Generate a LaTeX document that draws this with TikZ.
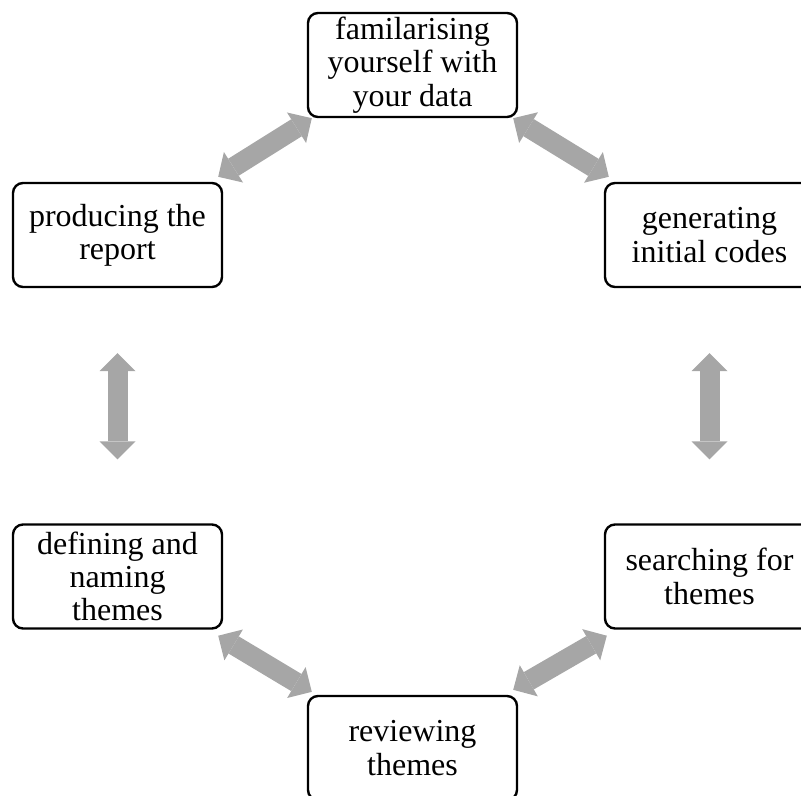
\documentclass[tikz,border=0pt]{standalone}
\usepackage{fontspec}
\setmainfont{Liberation Serif}
\usetikzlibrary{arrows.meta}
\definecolor{arrowgrey}{RGB}{166,166,166}

\begin{document}
\begin{tikzpicture}[x=0.75pt,y=0.75pt,yscale=-1,xscale=1,
		stage/.style={draw, line width=1.8pt, rounded corners=7.5pt, minimum width=156.75pt, minimum height=78pt, align=center, inner sep=0.75pt, font=\fontsize{24}{25}\selectfont},
		biarrow/.style={draw=arrowgrey, line width=15pt, {Triangle[length=13.5pt,width=27pt,line width=0pt]}-{Triangle[length=13.5pt,width=27pt,line width=0pt]}}]
		\useasboundingbox (0,0) rectangle (801,796);
		\node[stage] (familiar) at (412.5,65) {familarising\\yourself with\\your data};
		\node[stage] (generate) at (709.5,235) {generating\\initial codes};
		\node[stage] (search) at (709.5,576.5) {searching for\\themes};
		\node[stage] (review) at (412.5,748) {reviewing\\themes};
		\node[stage] (define) at (117.5,576.5) {defining and\\naming\\themes};
		\node[stage] (report) at (117.5,235) {producing the\\report};
		\draw[biarrow] ([shift={(-5,-5)}]report.north east) -- ([shift={(5,0)}]familiar.south west);
		\draw[biarrow] ([shift={(-5,0)}]familiar.south east) -- ([shift={(5,-5)}]generate.north west);
		\draw[biarrow, shorten <=48.75pt, shorten >=48pt] (generate.south) -- (search.north);
		\draw[biarrow] ([shift={(3,6)}]search.south west) -- ([shift={(-5,-5)}]review.north east);
		\draw[biarrow] ([shift={(-5,6)}]define.south east) -- ([shift={(5,-3)}]review.north west);
		\draw[biarrow, shorten <=48.75pt, shorten >=48pt] (report.south) -- (define.north);
\end{tikzpicture}
\end{document}
